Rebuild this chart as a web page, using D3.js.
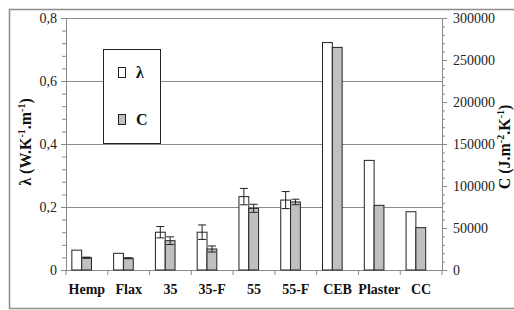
<!DOCTYPE html>
<html>
<head>
<meta charset="utf-8">
<script src="https://cdn.jsdelivr.net/npm/d3@7"></script>
<style>
  body { margin: 0; background: #fff; }
</style>
</head>
<body>
<div id="chart"></div>
<script>
// data
const categories = ["Hemp", "Flax", "35", "35-F", "55", "55-F", "CEB", "Plaster", "CC"];
const lambdaValues = [0.063, 0.053, 0.12, 0.12, 0.233, 0.222, 0.722, 0.348, 0.185];
const lambdaErrors = [0, 0, 0.018, 0.023, 0.026, 0.027, 0, 0, 0];
const cValues = [14600, 14000, 34900, 25000, 73400, 81000, 265000, 77000, 50400];
const cErrors = [700, 600, 4600, 3600, 4800, 3300, 0, 0, 0];
const leftTicks = [0, 0.2, 0.4, 0.6, 0.8];
const rightTicks = [0, 50000, 100000, 150000, 200000, 250000, 300000];

const FONT = "'Liberation Serif', 'Times New Roman', 'DejaVu Serif', serif";
const W = 514, H = 310;
const margins = { top: 18, right: 72, bottom: 40, left: 66 };
const width = W - margins.left - margins.right;
const height = H - margins.top - margins.bottom;

const svg = d3.select("#chart").append("svg")
    .attr("width", W)
    .attr("height", H)
    .attr("font-family", FONT);

// outer frame
svg.append("rect")
    .attr("x", 9.5).attr("y", 9.5)
    .attr("width", W).attr("height", 299)
    .attr("fill", "none")
    .attr("stroke", "#8c8c8c")
    .attr("stroke-width", 1.5);

const g = svg.append("g")
    .attr("transform", "translate(" + margins.left + "," + margins.top + ")");

// scales
const xScale = d3.scaleBand().domain(categories).range([0, width]).padding(0);
const yLeft = d3.scaleLinear().domain([0, 0.8]).range([height, 0]);
const yRight = d3.scaleLinear().domain([0, 300000]).range([height, 0]);

// gridlines
g.selectAll(".grid")
    .data(leftTicks.filter(d => d > 0))
    .enter().append("line")
    .attr("x1", 0).attr("x2", width)
    .attr("y1", d => Math.round(yLeft(d)) + 0.5)
    .attr("y2", d => Math.round(yLeft(d)) + 0.5)
    .attr("stroke", "#8a8a8a");

// left axis
const leftAxis = g.append("g")
    .call(d3.axisLeft(yLeft).tickValues(leftTicks).tickSize(5)
        .tickFormat(d => d === 0 ? "0" : d3.format(".1f")(d).replace(".", ",")));
g.append("g")
    .call(d3.axisLeft(yLeft).tickValues(d3.range(0, 0.81, 0.04)).tickSize(4).tickFormat(""));

// right axis
const rightAxis = g.append("g")
    .attr("transform", "translate(" + width + ",0)")
    .call(d3.axisRight(yRight).tickValues(rightTicks).tickSize(5).tickFormat(d3.format("d")));
g.append("g")
    .attr("transform", "translate(" + width + ",0)")
    .call(d3.axisRight(yRight).tickValues(d3.range(0, 300001, 10000)).tickSize(3).tickFormat(""));

// bottom axis
const bottomAxis = g.append("g")
    .attr("transform", "translate(0," + height + ")")
    .call(d3.axisBottom(xScale).tickSize(0).tickPadding(14));
g.append("g")
    .attr("transform", "translate(0," + height + ")")
    .selectAll("line")
    .data(d3.range(categories.length + 1))
    .enter().append("line")
    .attr("x1", d => d * xScale.bandwidth())
    .attr("x2", d => d * xScale.bandwidth())
    .attr("y1", 0).attr("y2", 5)
    .attr("stroke", "#8a8a8a");

g.selectAll(".domain").attr("stroke", "#8a8a8a");
g.selectAll(".tick line").attr("stroke", "#8a8a8a");
leftAxis.selectAll("text").attr("font-size", 14).attr("fill", "#222").attr("dx", -1);
rightAxis.selectAll("text").attr("font-size", 14).attr("fill", "#222").attr("dx", 3);
bottomAxis.selectAll("text").attr("font-size", 14).attr("font-weight", "bold").attr("fill", "#111");

// bars
const bw = xScale.bandwidth() * 0.235;
const off = xScale.bandwidth() * 0.14;

g.selectAll(".barL")
    .data(categories)
    .enter().append("rect")
    .attr("x", d => xScale(d) + off)
    .attr("y", (d, i) => yLeft(lambdaValues[i]))
    .attr("width", bw)
    .attr("height", (d, i) => height - yLeft(lambdaValues[i]))
    .attr("fill", "#fff")
    .attr("stroke", "#222")
    .attr("stroke-width", 1);

g.selectAll(".barC")
    .data(categories)
    .enter().append("rect")
    .attr("x", d => xScale(d) + off + bw)
    .attr("y", (d, i) => yRight(cValues[i]))
    .attr("width", bw)
    .attr("height", (d, i) => height - yRight(cValues[i]))
    .attr("fill", "#c0c0c0")
    .attr("stroke", "#222")
    .attr("stroke-width", 1);

// error bars
function errorBar(cx, yTop, yBot) {
    const e = g.append("g").attr("stroke", "#222").attr("stroke-width", 1);
    e.append("line").attr("x1", cx).attr("x2", cx).attr("y1", yTop).attr("y2", yBot);
    e.append("line").attr("x1", cx - 4).attr("x2", cx + 4).attr("y1", yTop).attr("y2", yTop);
    e.append("line").attr("x1", cx - 4).attr("x2", cx + 4).attr("y1", yBot).attr("y2", yBot);
}
categories.forEach((c, i) => {
    if (lambdaErrors[i] > 0) {
        errorBar(xScale(c) + off + bw / 2,
            yLeft(lambdaValues[i] + lambdaErrors[i]),
            yLeft(lambdaValues[i] - lambdaErrors[i]));
    }
    if (cErrors[i] > 0) {
        errorBar(xScale(c) + off + bw * 1.5,
            yRight(cValues[i] + cErrors[i]),
            yRight(cValues[i] - cErrors[i]));
    }
});

// axis titles
function axisTitle(x, y, parts) {
    const t = svg.append("text")
        .attr("transform", "translate(" + x + "," + y + ") rotate(-90)")
        .attr("text-anchor", "middle")
        .attr("font-size", 16)
        .attr("font-weight", "bold")
        .attr("fill", "#111");
    parts.forEach(p => {
        if (p.sup) {
            t.append("tspan").attr("dy", -6).attr("font-size", 10).text(p.sup);
        } else {
            t.append("tspan").attr("dy", p.after ? 6 : 0).text(p.text);
        }
    });
}
axisTitle(31, 142, [
    { text: "λ (W.K" }, { sup: "-1" }, { text: ".m", after: true },
    { sup: "-1" }, { text: ")", after: true }
]);
axisTitle(510, 147, [
    { text: "C (J.m" }, { sup: "-2" }, { text: ".K", after: true },
    { sup: "-1" }, { text: ")", after: true }
]);

// legend
const legend = svg.append("g");
legend.append("rect")
    .attr("x", 103.5).attr("y", 49.5)
    .attr("width", 57).attr("height", 94)
    .attr("fill", "#fff").attr("stroke", "#222");
const legendItems = [
    { label: "λ", fill: "#fff", y: 73 },
    { label: "C", fill: "#c0c0c0", y: 120 }
];
legendItems.forEach(item => {
    legend.append("rect")
        .attr("x", 118.5).attr("y", item.y - 5.5)
        .attr("width", 7).attr("height", 10)
        .attr("fill", item.fill).attr("stroke", "#222");
    legend.append("text")
        .attr("x", 136).attr("y", item.y + 5)
        .attr("font-size", 16).attr("font-weight", "bold")
        .attr("fill", "#111")
        .text(item.label);
});

// force serif everywhere (d3 axes set their own font-family)
svg.selectAll("g").attr("font-family", FONT);
svg.selectAll("text").attr("font-family", FONT);
</script>
</body>
</html>
